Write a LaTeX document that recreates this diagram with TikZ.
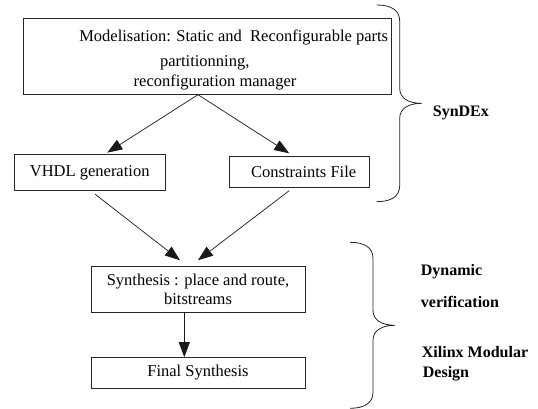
\documentclass[tikz,border=0pt]{standalone}
\usepackage{fontspec}
\setmainfont{Liberation Serif}
\usepackage{tikz}
\usetikzlibrary{ arrows.meta, positioning }
\tikzset{
>={Triangle[length=15pt,width=11pt]}, % big filled heads
every node/.style={inner sep=0pt, font=\fontsize{16.5}{19}\selectfont},
box/.style={draw=black!85, line width=0.8pt, minimum width=#1}, % boxes of the flow
flow/.style={->, line width=0.7pt, black!90},
bracebar/.style={line width=0.8pt, black!85},
bracetext/.style={anchor=west, font=\bfseries\fontsize{16}{19}\selectfont},
% curly brace opening to the right, drawn down from its top end, #1 = height
pics/curlybrace/.style={code={
  \draw[bracebar] (0,0) .. controls (14,0) and (23,-5) .. (23,-16)
    -- (23,{-#1/2+15}) .. controls (23,{-#1/2+5}) and (32,{-#1/2}) .. (45,{-#1/2})
    .. controls (32,{-#1/2}) and (23,{-#1/2-5}) .. (23,{-#1/2-15})
    -- (23,{-#1+16}) .. controls (23,{-#1+5}) and (14,-#1) .. (0,-#1);
}},
}

\begin{document}
\begin{tikzpicture}[x=1pt, y=1pt]
  \useasboundingbox (0,0) rectangle (538,409);

  % boxes
  \node[box=368.4pt, minimum height=76pt] (modbox) at (207.5,352.7) {};
  \node (modline1) at (233.7,371.3) {Modelisation: Static and\ \ Reconfigurable parts};
  \node (modline2) at (204.7,346) {partitionning,};
  \node (modline3) at (215,326.7) {reconfiguration manager};
  \node[box=150.7pt, minimum height=36.7pt] (vhdl) at (89.7,236.6) {VHDL generation};
  \node[box=140.3pt, minimum height=30.6pt] (constr) at (299.2,237) {\hspace{9pt}Constraints File};
  \node[box=214pt, minimum height=45.3pt, align=center] (synth) at (198,119.7)
    {Synthesis : place and route,\\bitstreams};
  \node[box=214pt, minimum height=30.8pt] (final) at (198,36) {Final Synthesis};

  % arrows
  \draw[flow] ([xshift=-9.5pt]modbox.south) -- ([xshift=17.6pt,yshift=1pt]vhdl.north);
  \draw[flow] ([xshift=-9.5pt]modbox.south) -- ([xshift=-10pt,yshift=3pt]constr.north);
  \draw[flow] ([xshift=5.3pt,yshift=-3pt]vhdl.south) -- ([xshift=-18pt,yshift=6pt]synth.north);
  \draw[flow] ([xshift=-10pt,yshift=-3pt]constr.south) -- ([yshift=6pt]synth.north);
  \draw[flow] ([xshift=-13.7pt]synth.south) -- ([xshift=-13.7pt]final.north);

  % braces and their texts
  \coordinate (syntop) at (376.7,404);
  \pic (synbrace) at (syntop) {curlybrace=196.7};
  \node[bracetext] (syndex) at (432.7,296) {SynDEx};

  \coordinate (xiltop) at (350,166.7);
  \pic (xilbrace) at (xiltop) {curlybrace=166};
  \node[bracetext] (dyn) at (420.7,137.3) {Dynamic};
  \node[bracetext] (verif) at (420.7,107.3) {verification};
  \node[bracetext] (xilinx) at (421.7,57.3) {Xilinx Modular};
  \node[bracetext] (design) at (422.7,35.7) {Design};
\end{tikzpicture}
\end{document}
